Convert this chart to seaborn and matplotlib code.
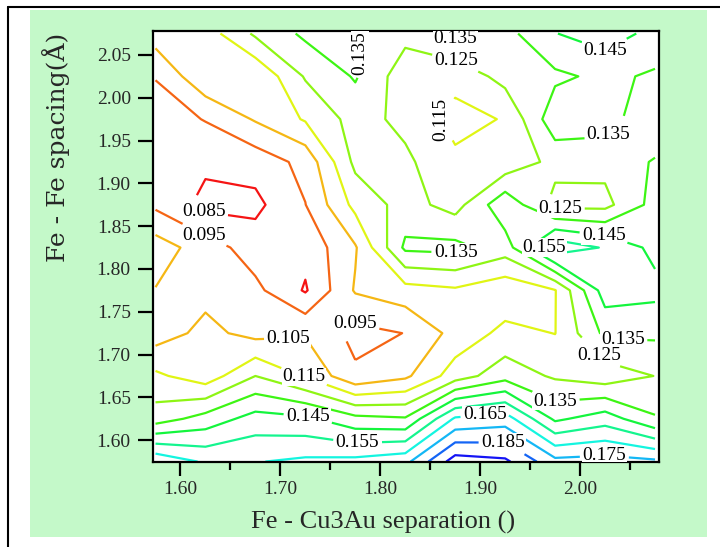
import numpy as np
import matplotlib
matplotlib.use("Agg")
import matplotlib.pyplot as plt
import seaborn as sns
from matplotlib.colors import hsv_to_rgb
from matplotlib.lines import Line2D
from matplotlib.patches import Rectangle

# grid coordinates
separation = [1.575, 1.625, 1.675, 1.725, 1.775, 1.825, 1.875, 1.925, 1.975, 2.025, 2.075]
spacing = [1.575, 1.625, 1.675, 1.725, 1.775, 1.825, 1.875, 1.925, 1.975, 2.025, 2.075]

# energy values, one row per Fe-Fe spacing (bottom to top)
e_1575 = [0.173, 0.1635, 0.1645, 0.167, 0.168, 0.172, 0.200, 0.197, 0.178, 0.179, 0.177]
e_1625 = [0.130, 0.139, 0.149, 0.147, 0.138, 0.136, 0.1665, 0.170, 0.143, 0.1503, 0.136]
e_1675 = [0.117, 0.1093, 0.125, 0.114, 0.0968, 0.103, 0.120, 0.131, 0.1235, 0.119, 0.1252]
e_1725 = [0.100, 0.1078, 0.1017, 0.104, 0.092, 0.0952, 0.1084, 0.1178, 0.1148, 0.1373, 0.137]
e_1775 = [0.1046, 0.102, 0.0975, 0.084, 0.106, 0.111, 0.1135, 0.108, 0.1145, 0.150, 0.148]
e_1825 = [0.110, 0.100, 0.090, 0.088, 0.104, 0.137, 0.138, 0.130, 0.162, 0.154, 0.142]
e_1875 = [0.093, 0.082, 0.0825, 0.0948, 0.118, 0.129, 0.121, 0.1424, 0.1218, 0.122, 0.1387]
e_1925 = [0.089, 0.087, 0.089, 0.098, 0.1275, 0.127, 0.117, 0.118, 0.128, 0.128, 0.136]
e_1975 = [0.090, 0.0955, 0.106, 0.116, 0.1289, 0.1224, 0.112, 0.1156, 0.1417, 0.140, 0.126]
e_2025 = [0.0955, 0.1133, 0.106, 0.126, 0.136, 0.119, 0.118, 0.1286, 0.133, 0.1373, 0.1335]
e_2075 = [0.110, 0.110, 0.1267, 0.137, 0.136, 0.128, 0.137, 0.1316, 0.1447, 0.150, 0.142]

levels = [0.085, 0.095, 0.105, 0.115, 0.125, 0.135, 0.145, 0.155, 0.165, 0.175, 0.185, 0.195]

x_ticks = [1.60, 1.70, 1.80, 1.90, 2.00]
x_minor = [1.65, 1.75, 1.85, 1.95, 2.05]
y_ticks = [1.60, 1.65, 1.70, 1.75, 1.80, 1.85, 1.90, 1.95, 2.00, 2.05]

# where the contour labels sit (data coords) and which ones stand upright
label_pos = [(1.625, 1.871), (1.625, 1.842), (1.708, 1.726), (1.775, 1.743),
             (1.725, 1.680), (1.727, 1.624), (1.777, 1.605), (1.778, 2.052),
             (1.875, 2.068), (1.875, 2.041), (1.853, 1.976), (2.024, 2.047),
             (2.024, 1.962), (1.980, 1.869), (2.024, 1.840), (1.875, 1.822),
             (1.962, 1.824), (2.043, 1.726), (2.025, 1.706), (1.975, 1.642),
             (1.905, 1.627), (1.923, 1.598), (2.024, 1.590)]
vertical_labels = [7, 10]

Z = np.array([e_1575, e_1625, e_1675, e_1725, e_1775, e_1825,
              e_1875, e_1925, e_1975, e_2025, e_2075])

sns.set_style("ticks")
plt.rcParams['font.family'] = ['Liberation Serif', 'DejaVu Serif']

hues = np.linspace(0, 240 / 360, len(levels))
colors = [hsv_to_rgb((h, 0.92, 0.96)) for h in hues]

W, H = 720, 547
fig = plt.figure(figsize=(W / 100, H / 100), dpi=100)
fig.patch.set_facecolor("white")
fig.patches.append(Rectangle((30 / W, 1 - 537 / H), 677 / W, 527 / H,
                             transform=fig.transFigure, facecolor="#c4f9c9",
                             edgecolor="none", zorder=-5))
fig.add_artist(Line2D([8 / W, 8 / W], [0, 1 - 7 / H], color="black", lw=1.5,
                      transform=fig.transFigure, zorder=-4))
fig.add_artist(Line2D([8 / W, 1], [1 - 7 / H, 1 - 7 / H], color="black", lw=1.5,
                      transform=fig.transFigure, zorder=-4))

ax = fig.add_axes([153 / W, 85 / H, 506 / W, 431 / H])
ax.set_zorder(2)
ax.set_facecolor("white")
cs = ax.contour(separation, spacing, Z, levels=levels, colors=colors, linewidths=1.6)
ax.clabel(cs, manual=label_pos, inline=True, inline_spacing=3,
          fmt="%.3f", fontsize=14, colors="black")
for i, t in enumerate(cs.labelTexts):
    t.set_rotation(90 if i in vertical_labels else 0)
    t.set_bbox(dict(facecolor="white", edgecolor="none", pad=0.5))

ax.set_xlim(1.5725, 2.079)
ax.set_ylim(1.5745, 2.078)
ax.set_xticks(x_ticks)
ax.set_xticks(x_minor, minor=True)
ax.set_yticks(y_ticks)
ax.set_xticklabels([f"{v:.2f}" for v in x_ticks])
ax.set_yticklabels([f"{v:.2f}" for v in y_ticks])
ax.tick_params(axis="x", which="major", direction="out", length=10, width=1.6,
               labelsize=14, pad=4, color="black")
ax.tick_params(axis="x", which="minor", direction="out", length=6, width=1.6, color="black")
ax.tick_params(axis="y", which="major", direction="out", length=11, width=1.6,
               labelsize=14, pad=5, color="black")
for s in ax.spines.values():
    s.set_color("black")
    s.set_linewidth(1.6)

ax.set_xlabel("Fe - Cu3Au separation ()", fontsize=19)
ax.xaxis.set_label_coords(0.4545, -0.113)
ax.set_ylabel("Fe - Fe spacing(Å)", fontsize=18, family=["DejaVu Serif"])
ax.yaxis.set_label_coords(-0.165, 0.731)

fig.savefig("out.png", dpi=100)
